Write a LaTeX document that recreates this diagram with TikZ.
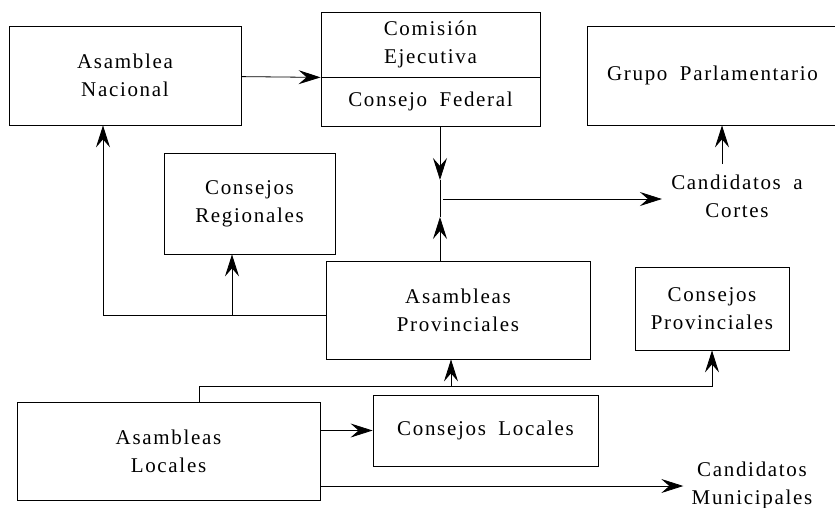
\documentclass[tikz,border=0pt]{standalone}
\usepackage{fontspec}
\setmainfont{Liberation Serif}[LetterSpace=8,WordSpace=1.8]
\usetikzlibrary{arrows.meta}

\begin{document}
\begin{tikzpicture}[x=1pt,y=-1pt,
>={Stealth[length=22pt,width=14pt,inset=8pt]},
line width=0.8pt,
every node/.style={font=\fontsize{21}{28}\selectfont}]
\tikzstyle{bx} = [draw, align=center, inner sep=0pt]
\tikzstyle{lbl} = [align=center, inner sep=0pt]

\useasboundingbox (0,0) rectangle (835,507);

% boxes
\node[bx,minimum width=232pt,minimum height=99pt](an) at (125,75.5){Asamblea\\Nacional};
\node[bx,minimum width=219pt,minimum height=65pt](ce) at (430.5,44.5){Comisión\\Ejecutiva};
\node[bx,minimum width=219pt,minimum height=49pt](cf) at (430.5,101.5){Consejo Federal};
\node[bx,minimum width=251pt,minimum height=99pt](gp) at (712.5,75.5){Grupo Parlamentario};
\node[bx,minimum width=171pt,minimum height=101pt](cr) at (249.5,203.5){Consejos\\Regionales};
\node[bx,minimum width=264pt,minimum height=98pt](ap) at (458,310){Asambleas\\Provinciales};
\node[bx,minimum width=154pt,minimum height=83pt](cp) at (712,308.5){Consejos\\Provinciales};
\node[bx,minimum width=303pt,minimum height=98pt](al) at (168.5,451){Asambleas\\Locales};
\node[bx,minimum width=225pt,minimum height=71pt](cl) at (485.5,430.5){Consejos Locales};
\node[lbl](cc) at (737,196){Candidatos a\\Cortes};
\node[lbl](cm) at (752,485){Candidatos\\Municipales};

% upper part
\draw[->] (an.east |- cf.north) -- (ce.south west);
\coordinate (j) at (440,199);
\draw[->] (cf.south -| j) -- ([yshift=19pt]j);
\draw[->] (ap.north -| j) -- ([yshift=-18pt]j);
\draw ([yshift=19pt]j) -- ([yshift=-18pt]j);
\draw[->] ([xshift=3pt]j) -- ([xshift=-9pt]cc.west |- j);
\coordinate (g) at ([xshift=-15pt,yshift=10pt]cc.north);
\draw[->] (g) -- (g |- gp.south);

% left side
\coordinate (b) at (103,315);
\coordinate (r) at (232,315);
\draw[->] (ap.west |- b) -- (b) -- (b |- an.south);
\draw[->] (r) -- (r |- cr.south);

% lower part
\coordinate (t) at (199,386);
\coordinate (p) at (451,386);
\draw[->] (al.north -| t) -- (t) -- (t -| cp.south) -- (cp.south);
\draw[->] (p) -- (p |- ap.south);
\draw[->] (al.east |- cl.west) -- (cl.west);
\draw[->] ([yshift=-35pt]al.east) -- ([xshift=-8pt,yshift=-35pt]al.east -| cm.west);

\end{tikzpicture}
\end{document}
